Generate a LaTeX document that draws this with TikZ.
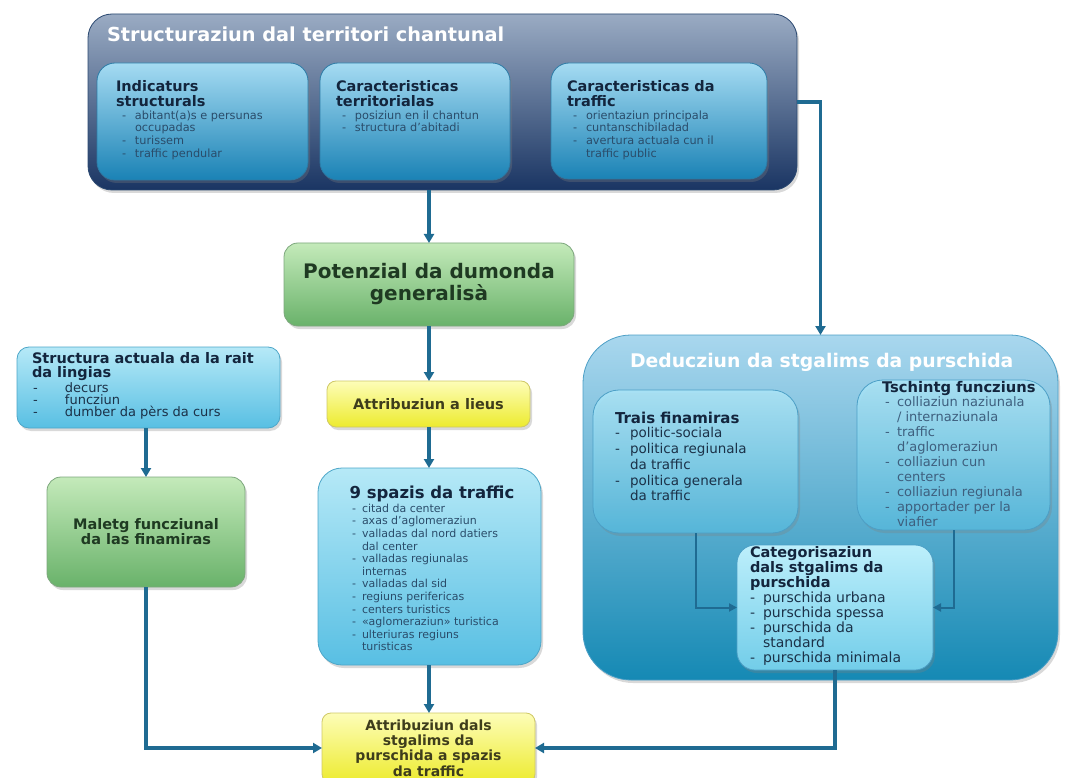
\documentclass[tikz,border=0pt]{standalone}
\usepackage{fontspec}
\setmainfont{DejaVu Sans}
\usetikzlibrary{arrows.meta,shadows}
\definecolor{arr}{HTML}{1F6B92}
\definecolor{topT}{HTML}{9AABC3}
\definecolor{topM}{HTML}{52739C}
\definecolor{topB}{HTML}{1A3563}
\definecolor{topD}{HTML}{2A4870}
\definecolor{inT}{HTML}{A5DBF2}
\definecolor{inM}{HTML}{58B1DA}
\definecolor{inB}{HTML}{1A82B5}
\definecolor{inD}{HTML}{2C7BA6}
\definecolor{grT}{HTML}{C4EABA}
\definecolor{grB}{HTML}{69B26A}
\definecolor{grD}{HTML}{7DA77D}
\definecolor{yeT}{HTML}{FDFDB8}
\definecolor{yeB}{HTML}{EDEB2E}
\definecolor{yeD}{HTML}{CFC866}
\definecolor{lcT}{HTML}{B6E9F7}
\definecolor{lcB}{HTML}{58BFE3}
\definecolor{lcD}{HTML}{4DA6C8}
\definecolor{dT}{HTML}{A9D7EE}
\definecolor{dM}{HTML}{5DB3D9}
\definecolor{dB}{HTML}{1589B4}
\definecolor{dD}{HTML}{4C9FC6}
\definecolor{diT}{HTML}{ABE4F6}
\definecolor{diB}{HTML}{55B8DC}
\definecolor{caT}{HTML}{BDEFFB}
\definecolor{caB}{HTML}{72CDE9}
\definecolor{hdnavy}{HTML}{13253D}
\definecolor{itgray}{HTML}{2A4C6A}
\definecolor{grtext}{HTML}{1F3A22}
\definecolor{yetext}{HTML}{3E3D1C}
\definecolor{tsit}{HTML}{3E5F7E}
\definecolor{darkit}{HTML}{1B3148}
\newlength\itemind
\newlength\dashoff
\newcommand\dl[1]{\makebox[\itemind][l]{\hspace*{\dashoff}-}#1}
\newcommand\cl[1]{\hspace*{\itemind}#1}
\newcommand\fsz[2]{\fontsize{#1}{#2}\selectfont}
\begin{document}
\begin{tikzpicture}[x=1pt,y=-1pt,
  every node/.style={inner sep=0pt, outer sep=0pt},
  card/.style={draw, anchor=north west, line width=0.8pt,
    drop shadow={shadow xshift=2pt, shadow yshift=-3pt, opacity=0.3}},
  topouter/.style={card, draw=topD, rounded corners=24pt, top color=topT, middle color=topM, bottom color=topB},
  topinner/.style={card, draw=inD, rounded corners=18pt, top color=inT, middle color=inM, bottom color=inB},
  greenbox/.style={card, draw=grD, rounded corners=14pt, top color=grT, bottom color=grB, align=center, text=grtext},
  yellowbox/.style={card, draw=yeD, rounded corners=9pt, top color=yeT, bottom color=yeB, align=center, text=yetext},
  cyanbox/.style={card, draw=lcD, rounded corners=#1, top color=lcT, bottom color=lcB},
  dedouter/.style={card, draw=dD, rounded corners=48pt, top color=dT, middle color=dM, bottom color=dB},
  dedinner/.style={card, draw=dD, rounded corners=26pt, top color=diT, bottom color=diB, fill opacity=0.9},
  catbox/.style={card, draw=dD, rounded corners=18pt, top color=caT, bottom color=caB},
  title/.style={anchor=north west, text=white, font=\bfseries\fsz{19.3}{21}},
  tophd/.style={anchor=north west, align=left, text=hdnavy, font=\bfseries\fsz{14.5}{15}},
  topit/.style={anchor=north west, align=left, text=itgray, font=\fsz{11.3}{12.7}\setlength\itemind{19pt}\setlength\dashoff{6pt}},
  arrow/.style={draw=arr, line width=3.2pt, -{Triangle[length=9pt,width=10pt]}},
  thinarrow/.style={draw=arr, line width=2pt, -{Triangle[length=8pt,width=8pt]}}
]
\useasboundingbox (0,0) rectangle (1066,778);

% ---------- top block ----------
\node[topouter, minimum width=709pt, minimum height=176pt] (top) at (88,14) {};
\node[title] (toptitle) at (107,27) {Structuraziun dal territori chantunal};
\node[topinner, minimum width=211pt, minimum height=117pt] (ind) at (97,63) {};
\node[topinner, minimum width=190pt, minimum height=117pt] (terr) at (320,63) {};
\node[topinner, minimum width=216pt, minimum height=116pt] (traf) at (551,63) {};

\node[tophd] (indh) at (116,80) {Indicaturs\\structurals};
\node[topit] (indi) at (116,110.5) {\dl{abitant(a)s e persunas}\\
\cl{occupadas}\\
\dl{turissem}\\
\dl{traffic pendular}};

\node[tophd] (terrh) at (336,80) {Caracteristicas\\territorialas};
\node[topit] (terri) at (336,110.5) {\dl{posiziun en il chantun}\\
\dl{structura d'abitadi}};

\node[tophd] (trafh) at (567,80) {Caracteristicas da\\traffic};
\node[topit] (trafi) at (567,110.5) {\dl{orientaziun principala}\\
\dl{cuntanschibiladad}\\
\dl{avertura actuala cun il}\\
\cl{traffic public}};

% ---------- middle column ----------
\node[greenbox, minimum width=290pt, minimum height=83pt, font=\bfseries\fsz{20}{22}] (pot) at (284,243) {Potenzial da dumonda\\generalisà};
\node[yellowbox, minimum width=203pt, minimum height=46pt, font=\bfseries\fsz{14.5}{16}] (lieus) at (327,381) {Attribuziun a lieus};
\node[cyanbox=24pt, minimum width=223pt, minimum height=197pt] (spaz) at (318,468) {};
\node[anchor=north, text=hdnavy, font=\bfseries\fsz{16.5}{18}] (spazh) at (432,486) {9 spazis da traffic};
\node[anchor=north west, align=left, text=itgray, font=\fsz{11}{12.6}\setlength\itemind{10pt}\setlength\dashoff{0pt}] (spazi) at (352,504) {\dl{citad da center}\\
\dl{axas d'aglomeraziun}\\
\dl{valladas dal nord datiers}\\
\cl{dal center}\\
\dl{valladas regiunalas}\\
\cl{internas}\\
\dl{valladas dal sid}\\
\dl{regiuns perifericas}\\
\dl{centers turistics}\\
\dl{«aglomeraziun» turistica}\\
\dl{ulteriuras regiuns}\\
\cl{turisticas}};
\node[yellowbox, minimum width=213pt, minimum height=70pt, font=\bfseries\fsz{14}{15.3}] (attr) at (322,713) {Attribuziun dals\\stgalims da\\purschida a spazis\\da traffic};

% ---------- left column ----------
\node[cyanbox=12pt, minimum width=263pt, minimum height=81pt] (struc) at (17,347) {};
\node[anchor=north west, align=left, text=hdnavy, font=\bfseries\fsz{14.5}{14.5}] (struch) at (32,352) {Structura actuala da la rait\\da lingias};
\node[anchor=north west, align=left, text=darkit, font=\fsz{13}{12}\setlength\itemind{33pt}\setlength\dashoff{1pt}] (struci) at (32,383) {\dl{decurs}\\
\dl{funcziun}\\
\dl{dumber da pèrs da curs}};
\node[greenbox, minimum width=198pt, minimum height=110pt, font=\bfseries\fsz{14.5}{15}] (malet) at (47,477) {Maletg funcziunal\\da las finamiras};

% ---------- right block ----------
\node[dedouter, minimum width=475pt, minimum height=345pt] (ded) at (583,335) {};
\node[title, font=\bfseries\fsz{18.8}{20}] (dedt) at (630,353) {Deducziun da stgalims da purschida};
\node[dedinner, minimum width=205pt, minimum height=143pt] (trais) at (593,390) {};
\node[dedinner, minimum width=193pt, minimum height=150pt] (tsch) at (857,380) {};
\node[anchor=north west, align=left, text=hdnavy, font=\bfseries\fsz{15}{16}] (traish) at (615,412.6) {Trais finamiras};
\node[anchor=north west, align=left, text=darkit, font=\fsz{13.5}{15.7}\setlength\itemind{15pt}\setlength\dashoff{0pt}] (traisi) at (615,427.7) {\dl{politic-sociala}\\
\dl{politica regiunala}\\
\cl{da traffic}\\
\dl{politica generala}\\
\cl{da traffic}};
\node[anchor=north west, align=left, text=hdnavy, font=\bfseries\fsz{14.7}{16}] (tschh) at (882,381.8) {Tschintg funcziuns};
\node[anchor=north west, align=left, text=tsit, font=\fsz{13}{15}\setlength\itemind{15pt}\setlength\dashoff{3pt}] (tschi) at (882,397) {\dl{colliaziun naziunala}\\
\cl{/ internaziunala}\\
\dl{traffic}\\
\cl{d'aglomeraziun}\\
\dl{colliaziun cun}\\
\cl{centers}\\
\dl{colliaziun regiunala}\\
\dl{apportader per la}\\
\cl{viafier}};

\node[catbox, minimum width=196pt, minimum height=125pt] (cat) at (737,545) {};
\node[anchor=north west, align=left, text=hdnavy, font=\bfseries\fsz{14.5}{15}] (cath) at (750,546) {Categorisaziun\\dals stgalims da\\purschida};
\node[anchor=north west, align=left, text=darkit, font=\fsz{14}{15}\setlength\itemind{13pt}\setlength\dashoff{0pt}] (cati) at (750,591.4) {\dl{purschida urbana}\\
\dl{purschida spessa}\\
\dl{purschida da}\\
\cl{standard}\\
\dl{purschida minimala}};

% ---------- connectors ----------
\draw[thinarrow] (trais.south) |- (cat.west);
\draw[thinarrow] (tsch.south) |- (cat.east);
\draw[arrow] (pot.north |- top.south) -- (pot.north);
\draw[arrow] (top.east) -| (ded.north);
\draw[arrow] (pot.south) -- (pot.south |- lieus.north);
\draw[arrow] (lieus.south -| pot.south) -- (pot.south |- spaz.north);
\draw[arrow] (spaz.south -| pot.south) -- (pot.south |- attr.north);
\draw[arrow] (malet.north |- struc.south) -- (malet.north);
\draw[arrow] (malet.south) |- (attr.west);
\draw[arrow] (cat.south) |- (attr.east);
\end{tikzpicture}
\end{document}
